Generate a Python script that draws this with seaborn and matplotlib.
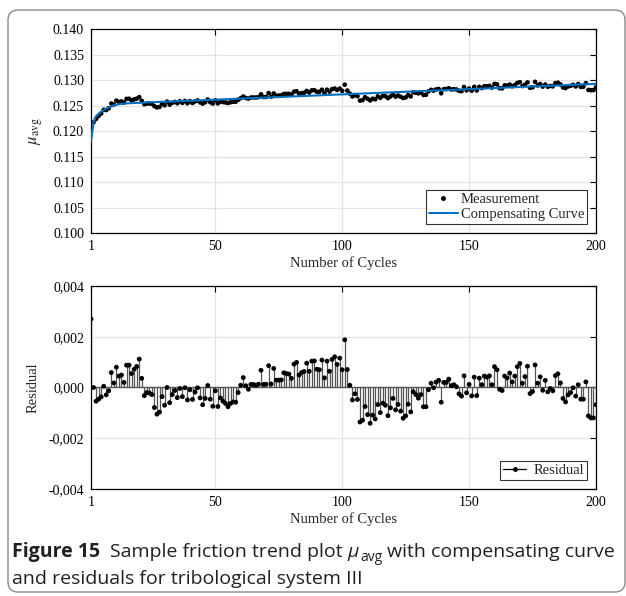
import numpy as np
import pandas as pd
import seaborn as sns
import matplotlib.pyplot as plt
from matplotlib.patches import FancyBboxPatch
from matplotlib.lines import Line2D
from matplotlib.legend_handler import HandlerLine2D

# values
cycles = list(range(1, 201))

measurement = [
    0.12060, 0.12170, 0.12236, 0.12294, 0.12343, 0.12415, 0.12411, 0.12447, 0.12539, 0.12518,
    0.12595, 0.12570, 0.12581, 0.12558, 0.12630, 0.12633, 0.12602, 0.12621, 0.12634, 0.12665,
    0.12591, 0.12525, 0.12539, 0.12539, 0.12535, 0.12486, 0.12462, 0.12472, 0.12536, 0.12504,
    0.12576, 0.12518, 0.12552, 0.12570, 0.12544, 0.12582, 0.12552, 0.12589, 0.12543, 0.12585,
    0.12549, 0.12580, 0.12599, 0.12561, 0.12537, 0.12564, 0.12617, 0.12565, 0.12539, 0.12602,
    0.12542, 0.12578, 0.12567, 0.12560, 0.12549, 0.12564, 0.12572, 0.12573, 0.12613, 0.12644,
    0.12677, 0.12647, 0.12635, 0.12656, 0.12658, 0.12657, 0.12663, 0.12720, 0.12666, 0.12669,
    0.12744, 0.12674, 0.12737, 0.12693, 0.12695, 0.12698, 0.12729, 0.12728, 0.12728, 0.12713,
    0.12771, 0.12780, 0.12732, 0.12744, 0.12750, 0.12785, 0.12755, 0.12797, 0.12800, 0.12769,
    0.12769, 0.12809, 0.12742, 0.12810, 0.12772, 0.12821, 0.12833, 0.12805, 0.12832, 0.12788,
    0.12908, 0.12793, 0.12733, 0.12677, 0.12703, 0.12683, 0.12596, 0.12605, 0.12662, 0.12632,
    0.12600, 0.12634, 0.12621, 0.12680, 0.12650, 0.12689, 0.12683, 0.12644, 0.12677, 0.12716,
    0.12673, 0.12696, 0.12672, 0.12646, 0.12658, 0.12706, 0.12678, 0.12759, 0.12750, 0.12738,
    0.12754, 0.12708, 0.12710, 0.12779, 0.12807, 0.12791, 0.12815, 0.12824, 0.12740, 0.12820,
    0.12823, 0.12838, 0.12814, 0.12820, 0.12814, 0.12788, 0.12781, 0.12863, 0.12798, 0.12833,
    0.12790, 0.12866, 0.12795, 0.12866, 0.12842, 0.12878, 0.12877, 0.12884, 0.12851, 0.12924,
    0.12914, 0.12839, 0.12836, 0.12895, 0.12890, 0.12911, 0.12878, 0.12903, 0.12942, 0.12957,
    0.12881, 0.12909, 0.12953, 0.12847, 0.12857, 0.12964, 0.12894, 0.12921, 0.12870, 0.12911,
    0.12868, 0.12883, 0.12876, 0.12938, 0.12947, 0.12913, 0.12854, 0.12842, 0.12873, 0.12884,
    0.12905, 0.12874, 0.12921, 0.12866, 0.12868, 0.12938, 0.12806, 0.12800, 0.12802, 0.12856,
]

residual = [
    0.00270, 0.00000, -0.00054, -0.00046, -0.00037, 0.00005, -0.00029, -0.00013, 0.00059, 0.00018,
    0.00080, 0.00045, 0.00049, 0.00020, 0.00088, 0.00088, 0.00055, 0.00072, 0.00083, 0.00112,
    0.00036, -0.00032, -0.00020, -0.00022, -0.00028, -0.00079, -0.00105, -0.00097, -0.00036, -0.00070,
    0.00000, -0.00060, -0.00028, -0.00012, -0.00040, -0.00004, -0.00036, -0.00001, -0.00049, -0.00009,
    -0.00047, -0.00018, -0.00001, -0.00041, -0.00068, -0.00043, 0.00008, -0.00046, -0.00074, -0.00013,
    -0.00075, -0.00041, -0.00054, -0.00063, -0.00076, -0.00063, -0.00057, -0.00058, -0.00020, 0.00009,
    0.00039, 0.00007, -0.00007, 0.00012, 0.00012, 0.00009, 0.00013, 0.00068, 0.00012, 0.00013,
    0.00086, 0.00014, 0.00075, 0.00029, 0.00029, 0.00030, 0.00058, 0.00055, 0.00053, 0.00036,
    0.00092, 0.00099, 0.00049, 0.00059, 0.00063, 0.00096, 0.00064, 0.00104, 0.00105, 0.00072,
    0.00070, 0.00108, 0.00038, 0.00104, 0.00064, 0.00111, 0.00121, 0.00091, 0.00116, 0.00070,
    0.00188, 0.00071, 0.00009, -0.00049, -0.00025, -0.00047, -0.00136, -0.00129, -0.00075, -0.00107,
    -0.00141, -0.00109, -0.00124, -0.00067, -0.00099, -0.00062, -0.00070, -0.00111, -0.00080, -0.00043,
    -0.00088, -0.00067, -0.00093, -0.00121, -0.00112, -0.00066, -0.00096, -0.00017, -0.00028, -0.00042,
    -0.00028, -0.00076, -0.00076, -0.00009, 0.00017, -0.00001, 0.00021, 0.00028, -0.00058, 0.00020,
    0.00020, 0.00033, 0.00007, 0.00011, 0.00003, -0.00025, -0.00034, 0.00046, -0.00021, 0.00012,
    -0.00033, 0.00041, -0.00032, 0.00037, 0.00011, 0.00045, 0.00041, 0.00046, 0.00011, 0.00082,
    0.00070, -0.00007, -0.00012, 0.00045, 0.00038, 0.00057, 0.00022, 0.00045, 0.00082, 0.00095,
    0.00017, 0.00043, 0.00084, -0.00024, -0.00016, 0.00089, 0.00017, 0.00042, -0.00011, 0.00028,
    -0.00017, -0.00004, -0.00013, 0.00047, 0.00054, 0.00018, -0.00043, -0.00057, -0.00029, -0.00020,
    -0.00001, -0.00034, 0.00011, -0.00046, -0.00046, 0.00022, -0.00112, -0.00120, -0.00120, -0.00068,
]

curve_cycles = [1, 2, 3, 4, 5, 6, 7, 8, 10, 12, 15, 20, 30, 40, 50, 75, 100, 125, 150, 175, 200]
curve_values = [0.11790, 0.12170, 0.12290, 0.12340, 0.12380, 0.12410, 0.12440, 0.12460, 0.12500,
                0.12525, 0.12542, 0.12553, 0.12574, 0.12594, 0.12615, 0.12666, 0.12718, 0.12770,
                0.12821, 0.12873, 0.12924]

xticks = [1, 50, 100, 150, 200]
top_yticks = [0.100, 0.105, 0.110, 0.115, 0.120, 0.125, 0.130, 0.135, 0.140]
top_ylabels = ['0.100', '0.105', '0.110', '0.115', '0.120', '0.125', '0.130', '0.135', '0.140']
bot_yticks = [-0.004, -0.002, 0.0, 0.002, 0.004]
bot_ylabels = ['-0,004', '-0,002', '0,000', '0,002', '0,004']

df = pd.DataFrame({'cycle': cycles, 'mu': measurement, 'res': residual})
curve = pd.DataFrame({'cycle': curve_cycles, 'mu': curve_values})


# stem-style legend entry: line with the marker at its right end
class EndMarker(HandlerLine2D):
    def get_xdata(self, legend, xdescent, ydescent, width, height, fontsize):
        xdata = np.array([-xdescent, -xdescent + width])
        return xdata, np.array([-xdescent + width])


sns.set_style('white')
plt.rcParams['font.family'] = ['Liberation Serif', 'DejaVu Serif']
plt.rcParams['mathtext.fontset'] = 'stix'
plt.rcParams['font.size'] = 10

W, H = 626, 596
fig = plt.figure(figsize=(W / 100, H / 100), dpi=100)

def px_axes(l, t, r, b):
    return fig.add_axes([l / W, 1 - b / H, (r - l) / W, (b - t) / H])

ax1 = px_axes(91, 29, 596, 233)
ax2 = px_axes(91, 286, 596, 489)

grid_col = '#e3e3e3'
for ax in (ax1, ax2):
    ax.set_xlim(1, 200)
    ax.set_xticks(xticks)
    ax.grid(True, color=grid_col, linewidth=0.9)
    ax.set_axisbelow(True)
    ax.tick_params(direction='in', top=True, right=True, length=4, width=0.8,
                   labelsize=10, colors='black', pad=5)
    for s in ax.spines.values():
        s.set_color('black')
        s.set_linewidth(0.9)
    ax.set_xlabel('Number of Cycles', fontsize=10.5, labelpad=2)

# top panel
sns.scatterplot(data=df, x='cycle', y='mu', ax=ax1, color='black', s=11,
                edgecolor='none', label='Measurement', zorder=3)
sns.lineplot(data=curve, x='cycle', y='mu', ax=ax1, color='#0072BD',
             linewidth=1.5, label='Compensating Curve', zorder=4)
ax1.set_ylim(0.100, 0.140)
ax1.set_yticks(top_yticks)
ax1.set_yticklabels(top_ylabels)
ax1.set_ylabel(r'$\mu_{\mathrm{avg}}$', fontsize=12, labelpad=6)
h, l = ax1.get_legend_handles_labels()
h[0] = Line2D([], [], color='black', marker='.', linestyle='none', markersize=5)
leg1 = ax1.legend(h, l, loc='lower right', frameon=True, fancybox=False,
                  edgecolor='black', fontsize=10.5, borderpad=0.2, handlelength=2.0,
                  handletextpad=0.2, labelspacing=0.15, borderaxespad=0.6)
leg1.get_frame().set_linewidth(0.8)

# bottom panel
ax2.axhline(0, color='#555555', linewidth=1.0, zorder=2)
ax2.vlines(df['cycle'], 0, df['res'], color='#555555', linewidth=0.9, zorder=2)
sns.scatterplot(data=df, x='cycle', y='res', ax=ax2, color='black', s=12,
                edgecolor='none', zorder=3, legend=False)
ax2.set_ylim(-0.004, 0.004)
ax2.set_yticks(bot_yticks)
ax2.set_yticklabels(bot_ylabels)
ax2.set_ylabel('Residual', fontsize=10.5, labelpad=6)
res_handle = Line2D([], [], color='black', marker='.', markersize=5, linewidth=0.9)
leg2 = ax2.legend([res_handle], ['Residual'], loc='lower right', frameon=True,
                  fancybox=False, edgecolor='black', fontsize=10.5, borderpad=0.2,
                  handlelength=1.6, handletextpad=0.5, borderaxespad=0.6, numpoints=1,
                  handler_map={res_handle: EndMarker()})
leg2.get_frame().set_linewidth(0.8)

# frame around the figure
frame = FancyBboxPatch((8, 4), 617, 582, boxstyle='round,pad=0,rounding_size=10',
                       transform=None, facecolor='none', edgecolor='#8a8a8a', linewidth=1.0)
fig.patches.append(frame)

# caption, written piece by piece
renderer = fig.canvas.get_renderer()
cap_kw = dict(family=['Open Sans', 'DejaVu Sans'], color='#231f20', va='baseline')

def put(x, y, s, size=14.0, **kw):
    t = fig.text(x / W, 1 - y / H, s, fontsize=size, **cap_kw, **kw)
    return t.get_window_extent(renderer).x1

x = put(12, 557, 'Figure 15', fontweight='bold')
x = put(x + 10, 557, 'Sample friction trend plot')
x = put(x + 5, 557, 'μ', style='italic')
x = put(x + 1, 561, 'avg', size=10)
x = put(x + 5, 557, 'with compensating curve')
put(12, 584, 'and residuals for tribological system III')

fig.savefig('out.png', dpi=100)
